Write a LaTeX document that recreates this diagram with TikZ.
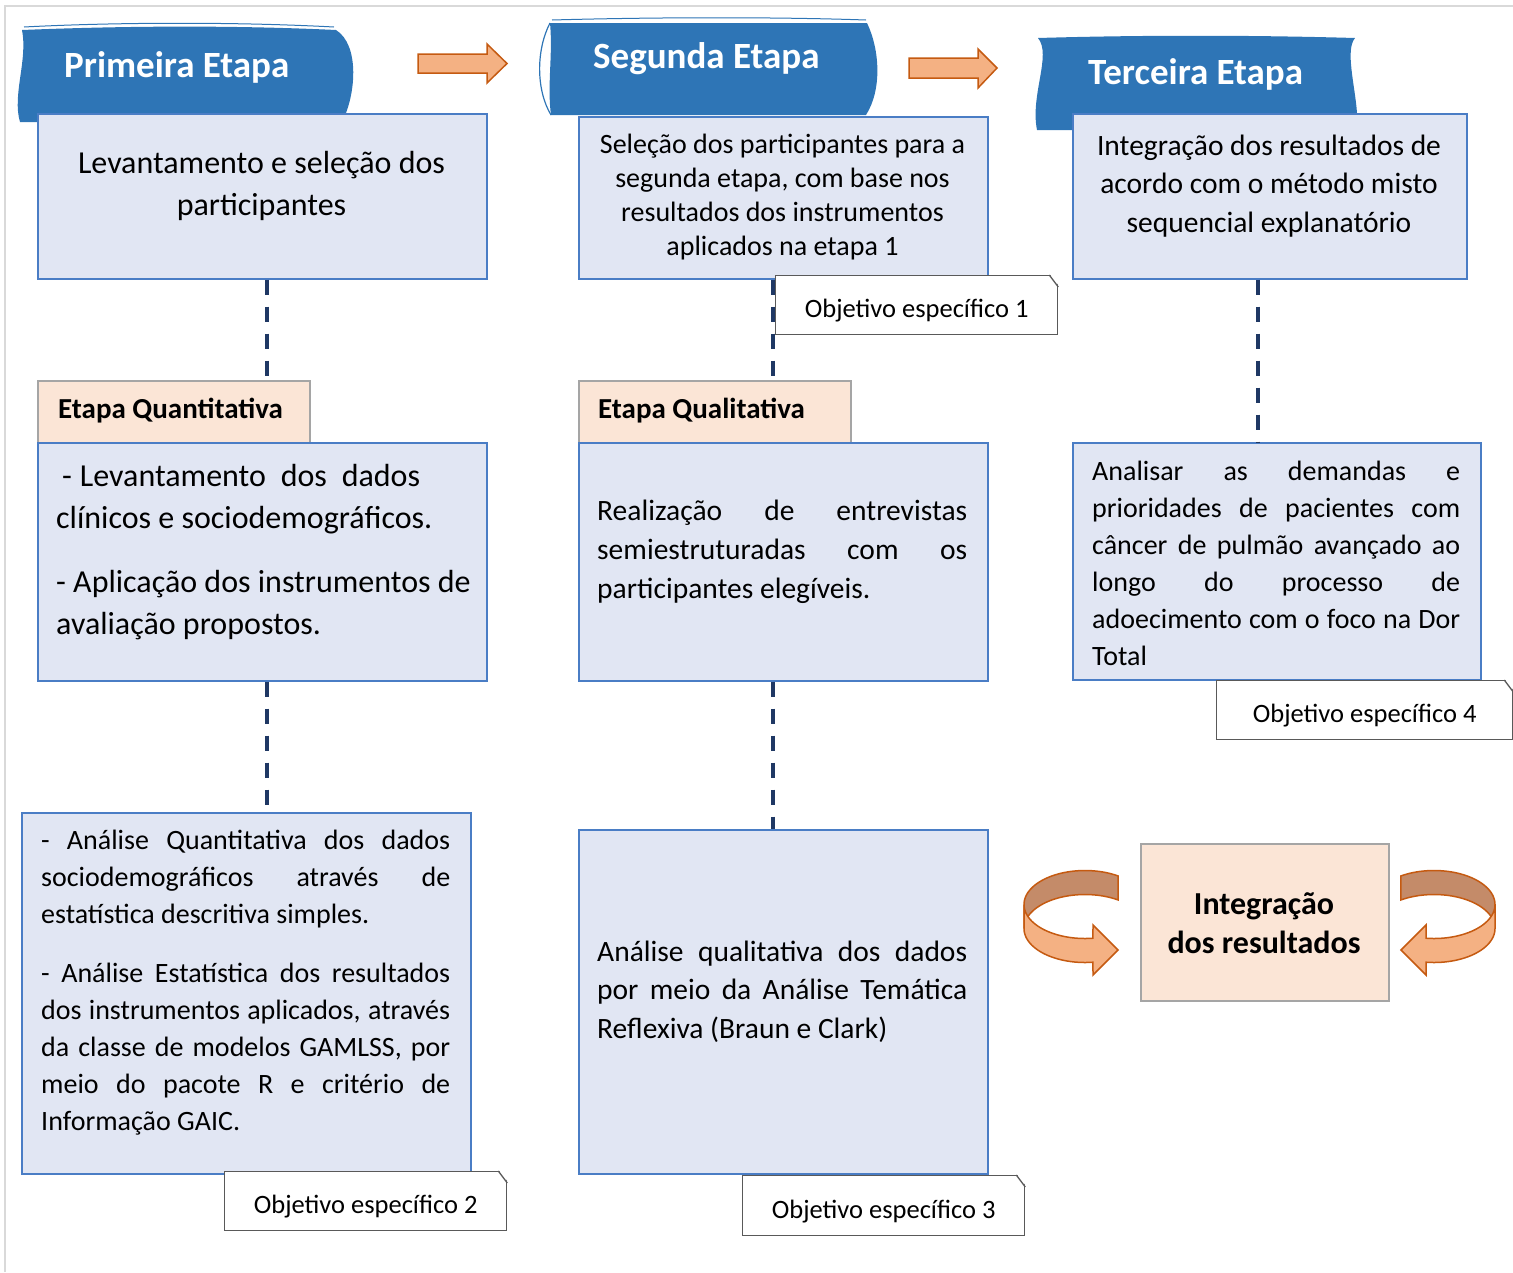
\documentclass[tikz,border=0pt]{standalone}
\usepackage{fontspec}
\setmainfont{Carlito}
\definecolor{bannerblue}{HTML}{2E75B6}
\definecolor{boxfill}{HTML}{E1E6F3}
\definecolor{boxline}{HTML}{4A7DC5}
\definecolor{headfill}{HTML}{FBE5D6}
\definecolor{headline}{HTML}{A5A5A5}
\definecolor{dashnavy}{HTML}{1F3864}
\definecolor{arrowfill}{HTML}{F4B183}
\definecolor{arrowline}{HTML}{C55A11}
\definecolor{arrowback}{HTML}{C48B69}
\definecolor{framegray}{HTML}{D9D9D9}
\definecolor{tagline}{HTML}{595959}
% cut the upper right corner of a tag node
\newcommand{\cutcorner}[1]{%
  \fill[white] ([xshift=-9pt,yshift=1.5pt]#1.north east) -- ([xshift=1.5pt,yshift=1.5pt]#1.north east)
     -- ([xshift=1.5pt,yshift=-12pt]#1.north east) -- cycle;
  \draw[tagline, line width=1.3pt] ([xshift=-9pt]#1.north east) -- ([yshift=-12pt]#1.north east);}
% the font's own interword space, without stretch
\newcommand{\natsp}{\spaceskip=\fontdimen2\font\relax\xspaceskip=\fontdimen2\font\relax}
% a line whose spaces are stretched to the given width
\newcommand{\jline}[2]{\makebox[#1][s]{\spaceskip=\fontdimen2\font plus 1fil\relax #2}}
\begin{document}
\begin{tikzpicture}[x=1pt, y=-1pt,
  box/.style={draw=boxline, line width=1.6pt, fill=boxfill, inner sep=0pt, anchor=north west},
  head/.style={draw=headline, line width=1.6pt, fill=headfill, inner sep=0pt, anchor=north west},
  tag/.style={draw=tagline, line width=1.3pt, fill=white, inner sep=0pt, anchor=north west,
              text height=25pt, text depth=0pt, font=\fontsize{26.5}{32}\selectfont},
  txt/.style={inner sep=0pt, text=black},
  title/.style={inner sep=0pt, text=white, anchor=base west, font=\fontsize{37}{44}\selectfont\bfseries},
  hdtext/.style={inner sep=0pt, anchor=base west, font=\fontsize{29}{35}\selectfont\bfseries},
  dashline/.style={draw=dashnavy, line width=4pt, dash pattern=on 15pt off 12pt},
  flatarrow/.style={fill=arrowfill, draw=arrowline, line width=1.5pt},
  ribbonback/.style={fill=arrowback, draw=arrowline, line width=1.5pt},
  ribbonfront/.style={fill=arrowfill, draw=arrowline, line width=1.5pt}]
\useasboundingbox (0,0) rectangle (1513,1272);

% page frame
\draw[framegray, line width=2pt] (5,1272) -- (5,6) -- (1513,6);

% stage banners
\fill[bannerblue] (22,30) .. controls (28,60) and (12,95) .. (20,122) -- (342,122)
  .. controls (356,95) and (360,45) .. (336,30) .. controls (230,25) and (120,26) .. (22,30) -- cycle;
\draw[bannerblue, line width=1pt] (24,27) .. controls (120,22) and (240,22) .. (334,27);
\fill[bannerblue] (550,23) .. controls (553,55) and (547,85) .. (551,115) -- (866,115)
  .. controls (882,90) and (880,50) .. (867,23) -- cycle;
\draw[bannerblue, line width=1.2pt] (550,23) .. controls (536,50) and (536,90) .. (551,115);
\draw[bannerblue, line width=1pt] (552,20) .. controls (660,17) and (780,17) .. (866,20);
\fill[bannerblue] (1038,38) .. controls (1052,55) and (1030,95) .. (1037,130) -- (1357,130)
  -- (1357,113) .. controls (1355,85) and (1345,50) .. (1355,38) .. controls (1250,35) and (1140,35) .. (1038,38) -- cycle;

\node[title] (t1) at (64,77) {Primeira Etapa};
\node[title] (t2) at (593,68) {Segunda Etapa};
\node[title] (t3) at (1088,84) {Terceira Etapa};

% arrows between the banners
\filldraw[flatarrow] (418,54) -- (487,54) -- (487,44) -- (507,63.5) -- (487,83) -- (487,73) -- (418,73) -- cycle;
\filldraw[flatarrow] (909,58) -- (978,58) -- (978,49) -- (997,68) -- (978,88) -- (978,78) -- (909,78) -- cycle;

% boxes
\node[box, minimum width=449pt, minimum height=165pt] (b1) at (37,113) {};
\node[box, minimum width=409pt, minimum height=162pt] (b2) at (578,116) {};
\node[box, minimum width=394pt, minimum height=165pt] (b3) at (1072,113) {};
\node[head, minimum width=272pt, minimum height=62pt] (h1) at (37,380) {};
\node[head, minimum width=272pt, minimum height=62pt] (h2) at (578,380) {};
\node[box, minimum width=449pt, minimum height=238pt] (q1) at (37,442) {};
\node[box, minimum width=409pt, minimum height=238pt] (q2) at (578,442) {};
\node[box, minimum width=408pt, minimum height=237pt] (q3) at (1072,442) {};
\node[box, minimum width=449pt, minimum height=361pt] (r1) at (21,812) {};
\node[box, minimum width=409pt, minimum height=344pt] (r2) at (578,829) {};
\node[head, minimum width=248pt, minimum height=157pt] (ir) at (1140,843) {};

% dashed connectors
\draw[dashline] ([xshift=4.5pt]b1.south) -- ([xshift=4.5pt]b1.south |- h1.north);
\draw[dashline] ([xshift=4.5pt]q1.south) -- ([xshift=4.5pt]q1.south |- r1.north);
\draw[dashline] ([xshift=-10.5pt]b2.south) -- ([xshift=-10.5pt]b2.south |- h2.north);
\draw[dashline] ([xshift=-10.5pt]q2.south) -- ([xshift=-10.5pt]q2.south |- r2.north);
\draw[dashline] ([xshift=-12pt]b3.south) -- ([xshift=-12pt]b3.south |- q3.north);

% objective tags
\node[tag, minimum width=282pt, minimum height=59pt] (o1) at (775,275) {Objetivo específico 1};
\cutcorner{o1}
\node[tag, minimum width=282pt, minimum height=59pt] (o2) at (224,1171) {Objetivo específico 2};
\cutcorner{o2}
\node[tag, minimum width=282pt, minimum height=60pt] (o3) at (742,1175) {Objetivo específico 3};
\cutcorner{o3}
\node[tag, minimum width=296pt, minimum height=59pt] (o4) at (1216,680) {Objetivo específico 4};
\cutcorner{o4}

% box texts
\node[txt, font=\fontsize{32}{42}\selectfont, text width=449pt, align=center, anchor=base] (b1t) at (261.5,173)
  {\natsp Levantamento e seleção dos\\participantes};
\node[txt, font=\fontsize{28}{34}\selectfont, text width=409pt, align=center, anchor=base] (b2t) at (782.5,153)
  {\natsp Seleção dos participantes para a\\segunda etapa, com base nos\\resultados dos instrumentos\\aplicados na etapa 1};
\node[txt, font=\fontsize{29.5}{38.5}\selectfont, text width=394pt, align=center, anchor=base] (b3t) at (1269,155)
  {\natsp Integração dos resultados de\\acordo com o método misto\\sequencial explanatório};

\node[hdtext] (h1t) at (58,418) {Etapa Quantitativa};
\node[hdtext] (h2t) at (598,418) {Etapa Qualitativa};

\node[txt, font=\fontsize{32}{42}\selectfont, text width=440pt, align=left, anchor=base west] (q1t) at (56,486)
  {\natsp\hspace*{6pt}\jline{358pt}{-\kern8pt Levantamento dos dados}\\
   clínicos e sociodemográficos.\\[22pt]
   - Aplicação dos instrumentos de\\
   avaliação propostos.};
\node[txt, font=\fontsize{29.5}{39}\selectfont, text width=385pt, align=left, anchor=base west] (q2t) at (597,520)
  {\natsp\jline{370pt}{Realização de entrevistas}\\
   \jline{370pt}{semiestruturadas com os}\\
   participantes elegíveis.};
\node[txt, font=\fontsize{28}{37}\selectfont, text width=385pt, align=left, anchor=base west] (q3t) at (1092,480)
  {\natsp\jline{368pt}{Analisar as demandas e}\\
   \jline{368pt}{prioridades de pacientes com}\\
   \jline{368pt}{câncer de pulmão avançado ao}\\
   \jline{368pt}{longo do processo de}\\
   \jline{368pt}{adoecimento com o foco na Dor}\\
   Total};
\node[txt, font=\fontsize{28}{37}\selectfont, text width=425pt, align=left, anchor=base west] (r1t) at (41,849)
  {\natsp\jline{409pt}{- Análise Quantitativa dos dados}\\
   \jline{409pt}{sociodemográficos através de}\\
   estatística descritiva simples.\\[22pt]
   \jline{409pt}{- Análise Estatística dos resultados}\\
   \jline{409pt}{dos instrumentos aplicados, através}\\
   \jline{409pt}{da classe de modelos GAMLSS, por}\\
   \jline{409pt}{meio do pacote R e critério de}\\
   Informação GAIC.};
\node[txt, font=\fontsize{29.5}{38.5}\selectfont, text width=385pt, align=left, anchor=base west] (r2t) at (597,961)
  {\natsp\jline{370pt}{Análise qualitativa dos dados}\\
   \jline{370pt}{por meio da Análise Temática}\\
   Reflexiva (Braun e Clark)};
\node[txt, font=\fontsize{32}{39}\selectfont\bfseries, text width=248pt, align=center, anchor=base] (irt) at (1264,914)
  {\natsp Integração\\dos resultados};

% curved arrows around the integration box
\filldraw[ribbonback] plot[domain=57:180, samples=40] ({1085+61*cos(\x)},{904.5-34*sin(\x)})
  -- plot[domain=180:57, samples=40] ({1085+61*cos(\x)},{928.5-34*sin(\x)}) -- cycle;
\filldraw[ribbonfront] plot[domain=180:277.5, samples=40] ({1085+61*cos(\x)},{904.5-34*sin(\x)})
  -- (1093,925) -- (1118,950) -- (1093,975)
  -- plot[domain=277.5:180, samples=40] ({1085+61*cos(\x)},{928.5-34*sin(\x)}) -- cycle;
\filldraw[ribbonback] plot[domain=57:180, samples=40] ({1434-61*cos(\x)},{904.5-34*sin(\x)})
  -- plot[domain=180:57, samples=40] ({1434-61*cos(\x)},{928.5-34*sin(\x)}) -- cycle;
\filldraw[ribbonfront] plot[domain=180:277.5, samples=40] ({1434-61*cos(\x)},{904.5-34*sin(\x)})
  -- (1426,925) -- (1401,950) -- (1426,975)
  -- plot[domain=277.5:180, samples=40] ({1434-61*cos(\x)},{928.5-34*sin(\x)}) -- cycle;
\end{tikzpicture}
\end{document}
